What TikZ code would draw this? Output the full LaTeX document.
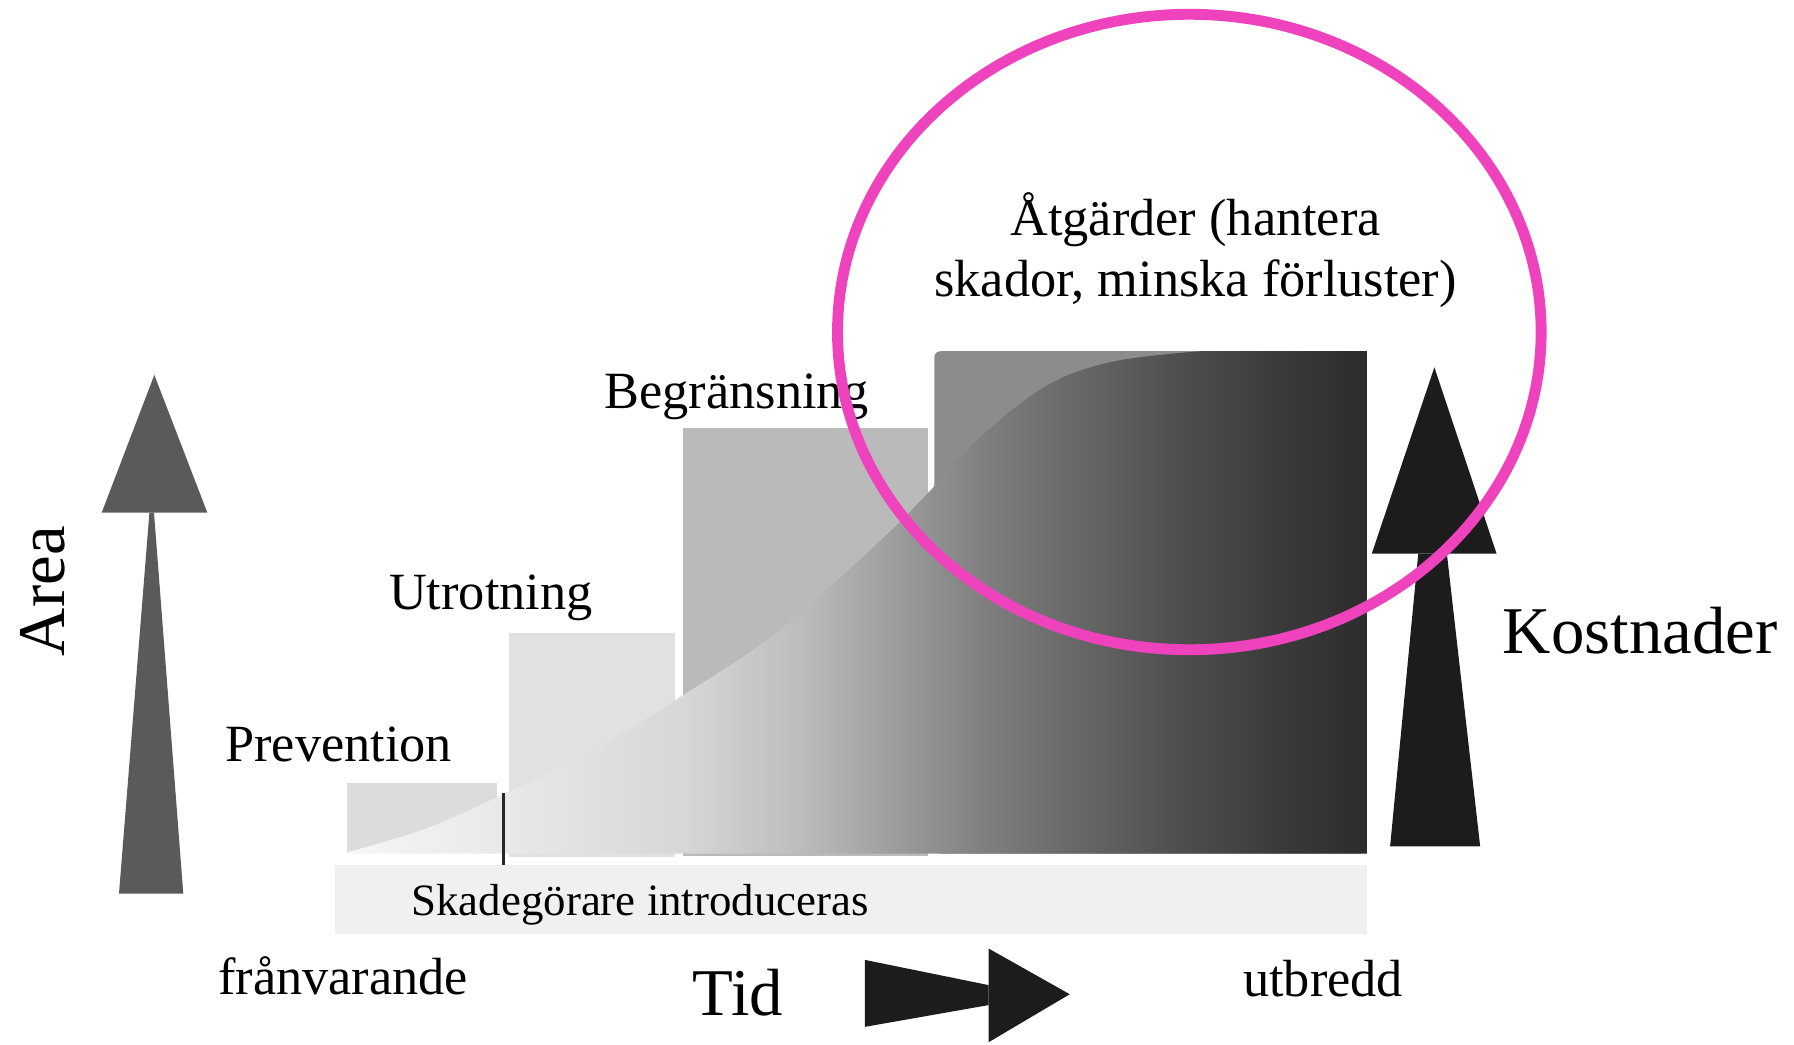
\documentclass[tikz,border=0pt]{standalone}
\usepackage{fontspec}
\setmainfont{Liberation Serif}
\usetikzlibrary{calc}

\definecolor{bandgray}{gray}{0.94}
\definecolor{prevgray}{gray}{0.863}
\definecolor{utrgray}{gray}{0.882}
\definecolor{begrgray}{gray}{0.73}
\definecolor{atggray}{gray}{0.55}
\definecolor{areagray}{gray}{0.353}
\definecolor{costblack}{gray}{0.11}
\definecolor{ringpink}{RGB}{239,67,190}

% gray ramp under the cost curve (25bp..75bp = path width)
\definecolor{s0}{gray}{0.965}
\definecolor{s1}{gray}{0.91}
\definecolor{s2}{gray}{0.84}
\definecolor{s3}{gray}{0.737}
\definecolor{s4}{gray}{0.635}
\definecolor{s5}{gray}{0.502}
\definecolor{s6}{gray}{0.40}
\definecolor{s7}{gray}{0.306}
\definecolor{s8}{gray}{0.227}
\definecolor{s9}{gray}{0.173}
\pgfdeclarehorizontalshading{costramp}{100bp}{color(0bp)=(s0); color(25bp)=(s0); color(33bp)=(s1); color(41.7bp)=(s2); color(47.3bp)=(s3); color(51.1bp)=(s4); color(56.1bp)=(s5); color(61bp)=(s6); color(65.9bp)=(s7); color(70.8bp)=(s8); color(75bp)=(s9); color(100bp)=(s9)}

\begin{document}
\begin{tikzpicture}[
    x=0.01cm, y=-0.01cm,
    lbl/.style={font=\fontsize{13pt}{15.3pt}\selectfont, inner sep=0pt, text=black},
    biglbl/.style={font=\fontsize{16.6pt}{19pt}\selectfont, inner sep=0pt, text=black},
    smalllbl/.style={font=\fontsize{11.15pt}{13pt}\selectfont, inner sep=0pt, text=black},
    ring/.style={draw=ringpink, line width=2.7pt}
]
\useasboundingbox (0,0) rectangle (1568,913);

% Time band along the bottom
\fill[bandgray] (293,756) rectangle (1194.6,816.6);
\node[smalllbl, anchor=base] (intro) at (559.5,800) {Skadegörare introduceras};

% Step columns
\fill[prevgray] (303,684.6) rectangle (434,745.7);
\fill[utrgray] (445,553.5) rectangle (590,749);
\fill[begrgray] (597,374) rectangle (811.5,748);
\fill[atggray, rounded corners=1.5pt] (816.6,307) rectangle (1194.6,746);

% Cost curve area (shaded left to right)
\shade[shading=costramp] plot[smooth, tension=0.6] coordinates {(303,745) (370,725) (434,697) (520,655) (598,607) (680,552) (769,473) (811,431) (857,382) (915,337) (973,316) (1049,307)}
    -- (1194.6,307) -- (1194.6,746) -- (303,746) -- cycle;

% Introduction tick
\draw[gray!30!black, line width=0.85pt] (440,693) -- (440,756);

% Column labels
\node[lbl, anchor=base] (prev) at (296,666) {Prevention};
\node[lbl, anchor=base] (utr) at (429,533) {Utrotning};
\node[lbl, anchor=base] (begr) at (644,357) {Begränsning};
\node[lbl, align=center, anchor=base] (atg) at (1045,259.3) {Åtgärder (hantera\\skador, minska förluster)};

% Area arrow (left)
\coordinate (areatip) at (134.9,327.7);
\fill[areagray] (88.9,448) -- (areatip) -- (181.2,448) -- cycle;
\fill[areagray] (130.6,448) -- (134.6,448) -- (160.2,781) -- (104,781) -- cycle;
\node[biglbl, rotate=90, anchor=base] (area) at (56.8,516.7) {Area};

% Cost arrow (right)
\coordinate (costtip) at (1253.7,321);
\fill[costblack] (1199,483.8) -- (costtip) -- (1308,483.8) -- cycle;
\fill[costblack] (1239.6,483.8) -- (1264.6,483.8) -- (1293.7,739.7) -- (1215,739.7) -- cycle;
\node[biglbl, anchor=base] (cost) at (1433.5,571) {Kostnader};

% Time arrow (bottom)
\coordinate (timetip) at (935,869);
\fill[costblack] (756,839) -- (864,861) -- (864,878.5) -- (756,897.5) -- cycle;
\fill[costblack] (864,829) -- (timetip) -- (864,911) -- cycle;
\node[biglbl, anchor=base] (tid) at (645,888) {Tid};
\node[lbl, anchor=base] (absent) at (300,869) {frånvarande};
\node[lbl, anchor=base] (spread) at (1156.5,871) {utbredd};

% Highlight ring
\draw[ring] (1039.5,290.2) ellipse [x radius=307.5, y radius=277.7];

\end{tikzpicture}
\end{document}
